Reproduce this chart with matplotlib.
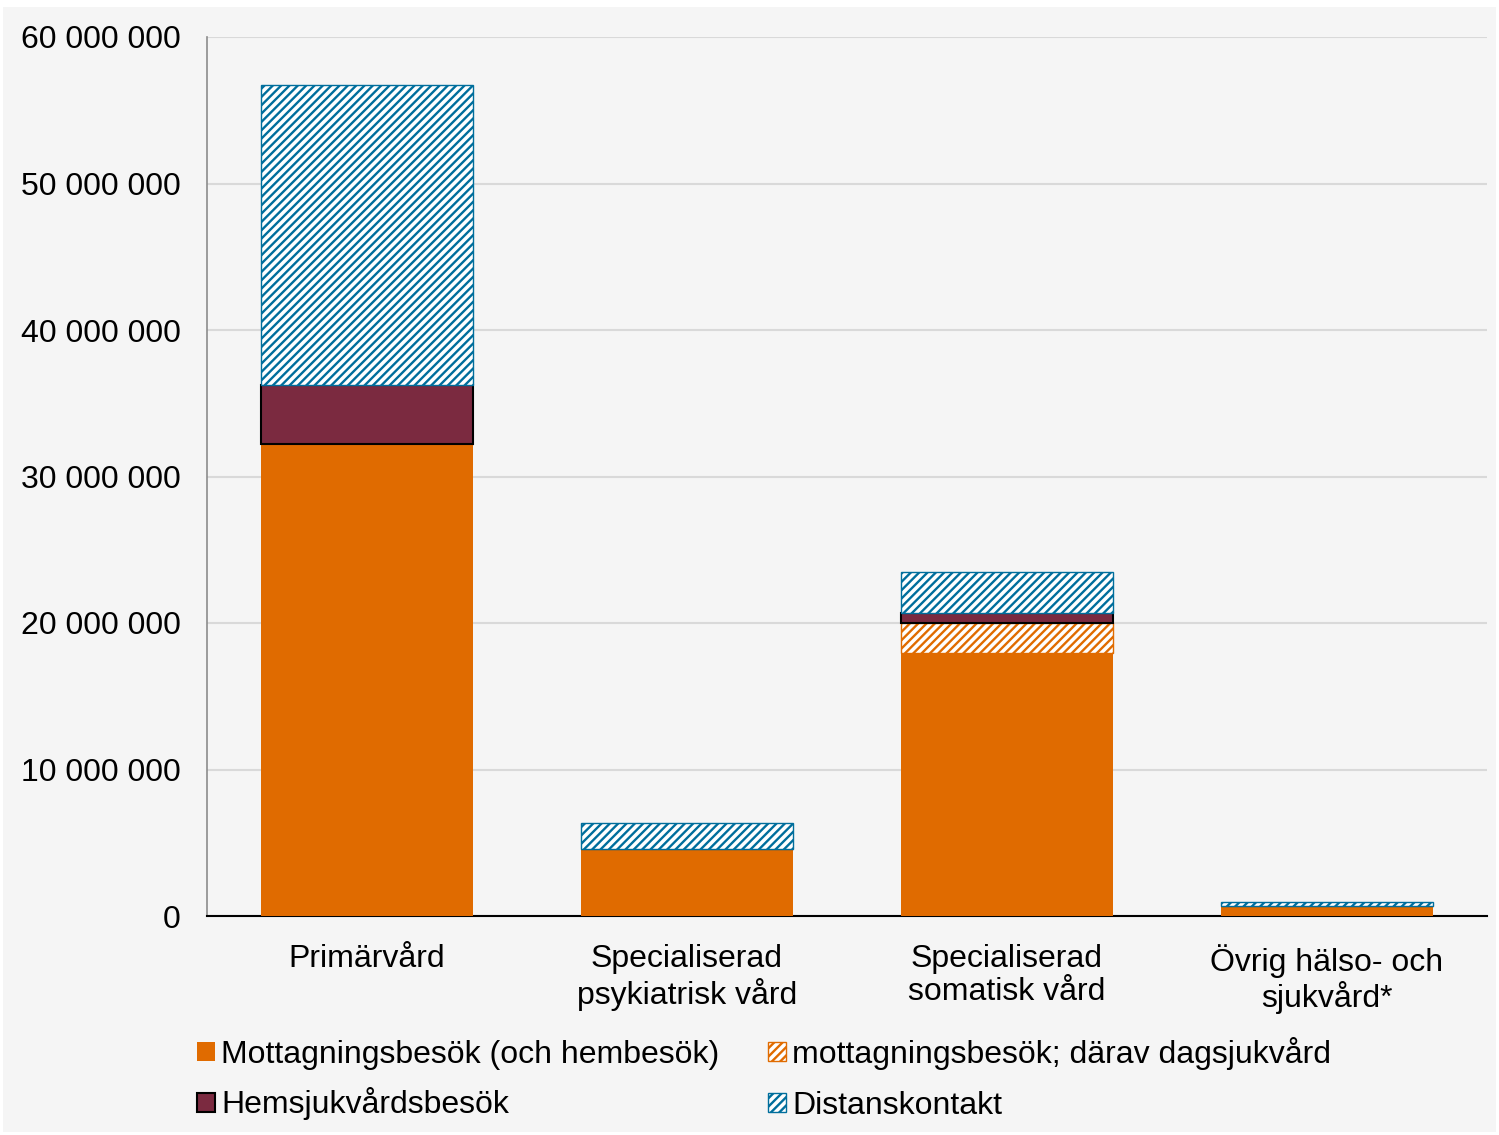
import numpy as np
import matplotlib
matplotlib.use('Agg')
import matplotlib.pyplot as plt
from matplotlib.patches import Rectangle

plt.rcParams['font.family'] = ['Liberation Sans', 'DejaVu Sans']
plt.rcParams['hatch.linewidth'] = 1.7

# ========== data ==========
categories = ['Primärvård', 'Specialiserad\npsykiatrisk vård',
              'Specialiserad\nsomatisk vård', 'Övrig hälso- och\nsjukvård*']
mottagning = [32200000, 4570000, 17950000, 680000]
dagsjukvard = [0, 0, 2050000, 0]
hemsjukvard = [4050000, 0, 700000, 0]
distans = [20450000, 1780000, 2800000, 270000]

series_labels = ['Mottagningsbesök (och hembesök)', 'mottagningsbesök; därav dagsjukvård',
                 'Hemsjukvårdsbesök', 'Distanskontakt']

orange = '#E06B00'
maroon = '#7B2A40'
blue = '#006E9C'
bg = '#F5F5F5'

fig = plt.figure(figsize=(14.99, 11.35), dpi=100, facecolor='white')
fig.patches.append(Rectangle((3/1499, 3/1135), 1493/1499, 1125/1135, transform=fig.transFigure,
                             facecolor=bg, edgecolor='none', zorder=-10))
ax = fig.add_axes([207/1499, 1 - 916/1135, 1280/1499, 879/1135])
ax.set_facecolor(bg)

x = np.arange(len(categories))
w = 0.66
b1 = np.array(mottagning, dtype=float)
b2 = b1 + np.array(dagsjukvard)
b3 = b2 + np.array(hemsjukvard)

h_mott = ax.bar(x, mottagning, w, color=orange, edgecolor='none', zorder=3)
h_dag = ax.bar(x, dagsjukvard, w, bottom=b1, facecolor='white', edgecolor=orange,
               hatch='////', linewidth=1, zorder=3)
h_hem = ax.bar(x, hemsjukvard, w, bottom=b2, color=maroon, edgecolor='black',
               linewidth=1.5, zorder=3)
h_dis = ax.bar(x, distans, w, bottom=b3, facecolor='white', edgecolor=blue,
               hatch='////', linewidth=1, zorder=3)

ax.set_xlim(-0.5, 3.5)
ax.set_ylim(0, 60000000)
ax.set_yticks(np.arange(0, 60000001, 10000000))
ax.set_yticklabels([f'{int(v):,}'.replace(',', ' ') for v in ax.get_yticks()])
ax.set_xticks(x)
ax.set_xticklabels(categories, linespacing=1.12)
ax.tick_params(axis='both', length=0, labelsize=23, colors='black')
ax.tick_params(axis='y', pad=19)
ax.tick_params(axis='x', pad=20.5)
ax.grid(axis='y', color='#D9D9D9', linewidth=1.5, zorder=0)
ax.set_axisbelow(True)
for s in ['top', 'right']:
    ax.spines[s].set_visible(False)
ax.spines['left'].set_color('#8C8C8C')
ax.spines['left'].set_linewidth(1.2)
ax.spines['bottom'].set_color('black')
ax.spines['bottom'].set_linewidth(1.5)

# one legend per entry so that rows line up regardless of descenders
handles = [h_mott, h_dag, h_hem, h_dis]
spots = [(197, 1055), (768, 1053), (197, 1104), (768, 1106)]
for h, lab, (px, py) in zip(handles, series_labels, spots):
    lg = fig.legend([h], [lab], loc='center left', bbox_to_anchor=(px/1499, 1 - py/1135),
                    frameon=False, fontsize=23, handlelength=0.55, handleheight=0.55,
                    handletextpad=0.2, borderaxespad=0, borderpad=0)

plt.savefig('out.png', dpi=100, facecolor=fig.get_facecolor())
